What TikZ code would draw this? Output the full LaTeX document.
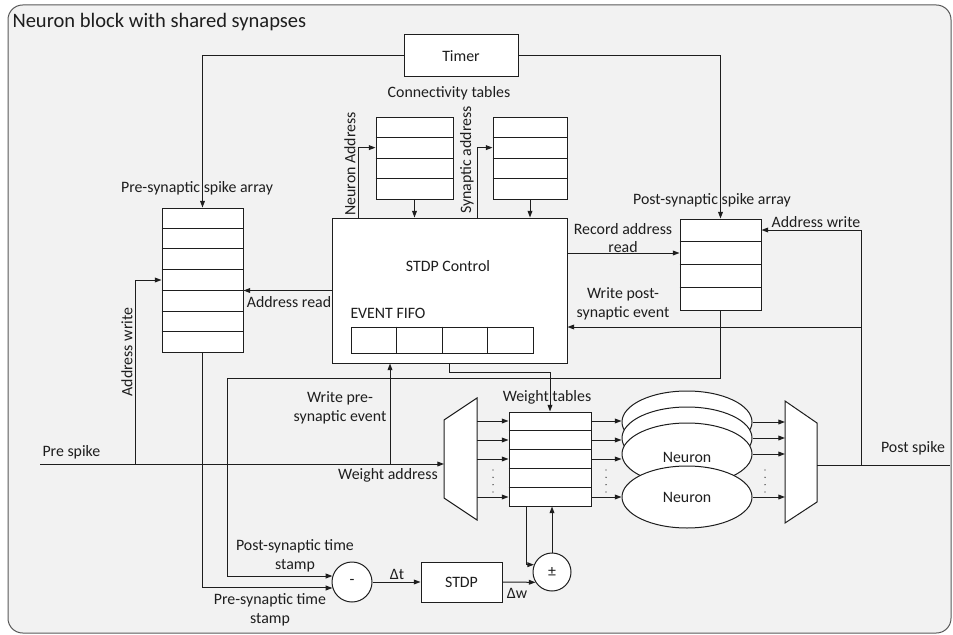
\documentclass[tikz,border=0pt]{standalone}
\usepackage{fontspec}
\setmainfont{Carlito}
\usetikzlibrary{arrows.meta,calc,fit,shapes.geometric}
\definecolor{bg}{HTML}{F2F2F2}
\definecolor{ink}{HTML}{1E1E1E}
\definecolor{framec}{HTML}{595959}
\newcommand{\pxu}{0.75pt}
\begin{document}
\begin{tikzpicture}[x=0.75pt,y=-0.75pt,
  font=\fontsize{11.9}{14}\selectfont, text=ink, line width=0.75pt,
  arr/.style={draw=ink,-{Triangle[length=5pt,width=3.6pt]}},
  ln/.style={draw=ink},
  box/.style={draw=ink,fill=white,inner sep=0pt},
  lbl/.style={inner sep=0pt,align=center},
  dots/.style={draw=ink,line width=1pt,dash pattern=on 0pt off 5.5pt,line cap=round}]
\useasboundingbox (0,0) rectangle (953,635);
% frame
\draw[draw=framec,fill=bg,rounded corners=11pt] (8,5) rectangle (951,633);
\node[lbl,anchor=west,font=\fontsize{15.4}{17}\selectfont] (title) at (12,22) {Neuron block with shared synapses};

% boxes
\node[box,fit={(404,35) (518,77)}] (timer) {};
\node[lbl] at (timer.center) {Timer};
\node[box,fit={(376,117) (453,199)}] (ct1) {};
\node[box,fit={(493,117) (567,199)}] (ct2) {};
\foreach \t in {ct1,ct2}{
  \foreach \i in {1,2,3}
    \draw[ln] ($(\t.north west)!\i/4!(\t.south west)$) -- ($(\t.north east)!\i/4!(\t.south east)$);
}
\node[box,fit={(332,218) (567,363)}] (stdpc) {};
\node[box,fit={(351,327) (533,353)}] (fifo) {};
\foreach \i in {1,2,3}
  \draw[ln] ($(fifo.north west)!\i/4!(fifo.north east)$) -- ($(fifo.south west)!\i/4!(fifo.south east)$);
\node[box,fit={(162,208) (243,352)}] (pre) {};
\foreach \i in {1,...,6}
  \draw[ln] ($(pre.north west)!\i/7!(pre.south west)$) -- ($(pre.north east)!\i/7!(pre.south east)$);
\node[box,fit={(680,219) (761,310)}] (post) {};
\foreach \i in {1,2,3}
  \draw[ln] ($(post.north west)!\i/4!(post.south west)$) -- ($(post.north east)!\i/4!(post.south east)$);
\node[box,fit={(509,412) (591,506)}] (wt) {};
\foreach \i in {1,...,4}
  \draw[ln] ($(wt.north west)!\i/5!(wt.south west)$) -- ($(wt.north east)!\i/5!(wt.south east)$);
\node[box,fit={(421,562) (502,602)}] (stdp) {};
\node[lbl] at (stdp.center) {STDP};
\node[box,circle,minimum size=40*\pxu] (minus) at (352,582) {-};
\node[box,circle,minimum size=38*\pxu] (pm) at (552,572) {±};

% demux and mux
\draw[box] (444,420) -- (477,398) -- (477,520) -- (444,498) -- cycle;
\coordinate (dmL) at (444,464);
\coordinate (dmR) at (477,459);
\draw[box] (785,401) -- (817,423) -- (817,502) -- (785,523) -- cycle;
\coordinate (mxL) at (785,462);
\coordinate (mxR) at (817,465);

% neurons
\node[box,ellipse,minimum width=130*\pxu,minimum height=62*\pxu] (n1) at (687,422) {};
\node[box,ellipse,minimum width=130*\pxu,minimum height=62*\pxu] (n2) at (687,438) {};
\node[box,ellipse,minimum width=130*\pxu,minimum height=62*\pxu] (n3) at (687,454) {};
\node[box,ellipse,minimum width=130*\pxu,minimum height=62*\pxu] (n4) at (687,497) {};
\node[lbl] at (687,457) {Neuron};
\node[lbl] at (n4.center) {Neuron};

% coordinates for junctions
\coordinate (ps) at (40,464);
\coordinate (awj) at (135,464);
\coordinate (wpj) at (390,464);
\coordinate (pj) at (861,465);
\coordinate (pend) at (950,465);
\coordinate (wpe) at (861,327);
\coordinate (pb1) at (227,378);

% timer connectors
\draw[arr] (timer.west) -| (pre.north);
\draw[arr] (timer.east) -| (post.north);
% connectivity tables
\draw[arr] ([xshift=27*\pxu]stdpc.north west) |- ($(ct1.north west)!0.375!(ct1.south west)$);
\draw[arr] ([xshift=146*\pxu]stdpc.north west) |- ($(ct2.north west)!0.375!(ct2.south west)$);
\draw[arr] (ct1.south) -- (ct1.south |- stdpc.north);
\draw[arr] (ct2.south) -- (ct2.south |- stdpc.north);
% pre array
\draw[arr] (awj) |- (pre.west);
\draw[arr] (stdpc.west) -- (stdpc.west -| pre.east);
\draw[arr] (pre.south) |- (minus.197);
% post array
\path ($(post.north west)!0.375!(post.south west)$) coordinate (rp);
\draw[arr] (rp -| stdpc.east) -- (rp);
\draw[arr] (pj) |- ($(post.north east)!0.125!(post.south east)$);
\draw[arr] (wpe) -- (wpe -| stdpc.east);
\draw[arr] (post.south) |- (pb1) |- (minus.163);
% spikes
\draw[arr] (ps) -- (dmL);
\draw[arr] (wpj) -- (wpj |- stdpc.south);
\draw[ln] (mxR) -- (pend);
% stdp control to weight table
\draw[arr] (stdpc.south) -- ++(0,9) -| (wt.north);
% demux to weight tables, weight tables to neurons
\foreach \f/\n in {0.1/n1,0.3/n2,0.5/n3,0.9/n4}{
  \path ($(wt.north west)!\f!(wt.south west)$) coordinate (t);
  \draw[arr] (t -| dmR) -- (t);
  \draw[arr] (t -| wt.east) -- (t -| \n.west);
  \draw[arr] (\n.east) -- (\n.east -| mxL);
}
\draw[dots] (493,470) -- (493,493);
\draw[dots] (606,470) -- (606,493);
\draw[dots] (765,470) -- (765,493);
% bottom chain
\draw[arr] (minus.east) -- (stdp.west);
\draw[arr] (stdp.east) -- (pm.212);
\draw[arr] (pm.north) -- (pm.north |- wt.south);
\draw[arr] ([xshift=18*\pxu]wt.south west) |- (pm.158);

% labels
\node[lbl] at (449,93) {Connectivity tables};
\node[lbl,rotate=90] at (350,164) {Neuron Address};
\node[lbl,rotate=90] at (467,160) {Synaptic address};
\node[lbl] at (448,266) {STDP Control};
\node[lbl,anchor=west] at (350,313) {EVENT FIFO};
\node[lbl] at (197,188) {Pre-synaptic spike array};
\node[lbl] at (712,200) {Post-synaptic spike array};
\node[lbl,rotate=90] at (127,352) {Address write};
\node[lbl] at (289,302) {Address read};
\node[lbl] at (623,238) {Record address\\read};
\node[lbl] at (623,304) {Write post-\\synaptic event};
\node[lbl] at (816,222) {Address write};
\node[lbl] at (340,408) {Write pre-\\synaptic event};
\node[lbl,anchor=west] at (42,452) {Pre spike};
\node[lbl] at (388,475) {Weight address};
\node[lbl] at (547,397) {Weight tables};
\node[lbl] at (913,448) {Post spike};
\node[lbl] at (295,556) {Post-synaptic time\\stamp};
\node[lbl] at (270,610) {Pre-synaptic time\\stamp};
\node[lbl] at (397,574) {Δt};
\node[lbl] at (517,593) {Δw};
\end{tikzpicture}
\end{document}
